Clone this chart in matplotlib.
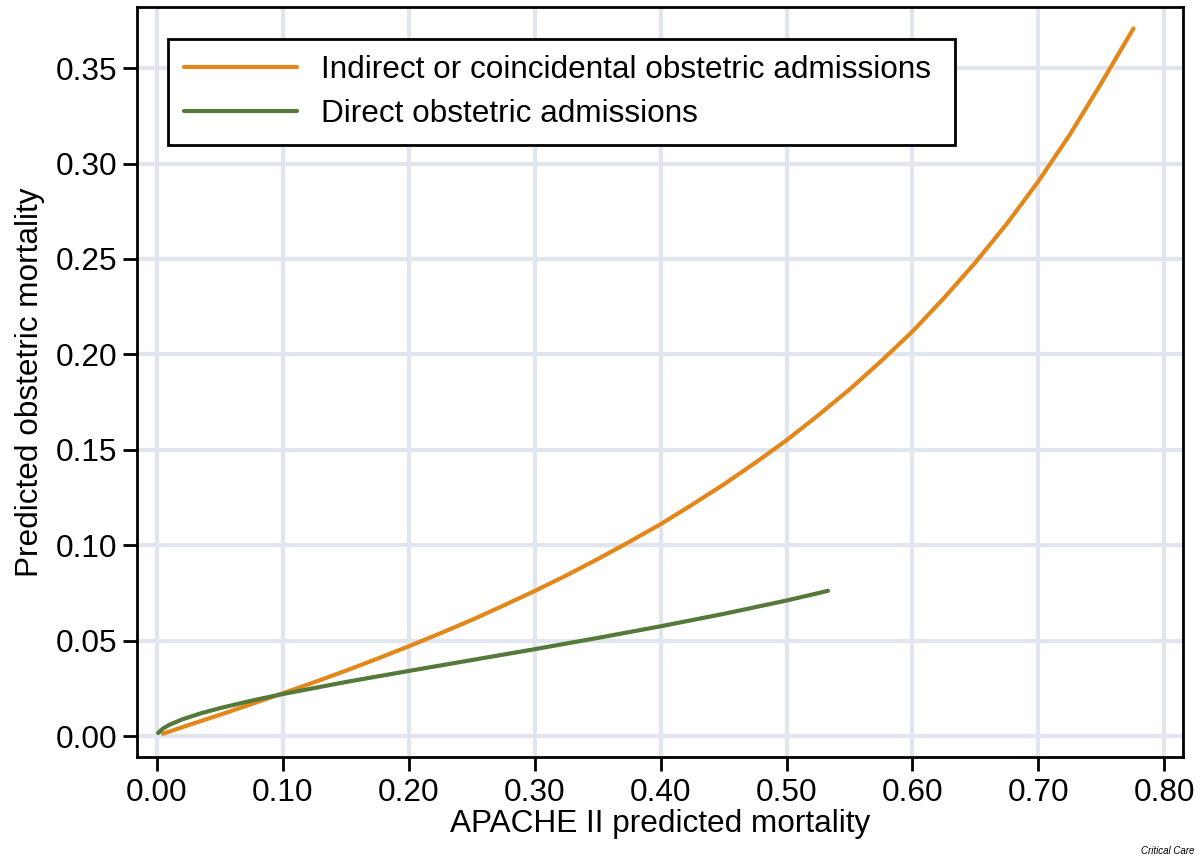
import matplotlib
matplotlib.use('Agg')
import matplotlib.pyplot as plt

# Values
indirect_x = [0.005, 0.025, 0.05, 0.075, 0.10, 0.125, 0.15, 0.175, 0.20, 0.225,
              0.25, 0.275, 0.30, 0.325, 0.35, 0.375, 0.40, 0.425, 0.45, 0.475,
              0.50, 0.525, 0.55, 0.575, 0.60, 0.625, 0.65, 0.675, 0.70, 0.725,
              0.75, 0.7755]
indirect_y = [0.0012, 0.0057, 0.0111, 0.0167, 0.0224, 0.0282, 0.0342, 0.0405,
              0.0470, 0.0538, 0.0608, 0.0683, 0.0760, 0.0841, 0.0927, 0.1017,
              0.1110, 0.1212, 0.1318, 0.1431, 0.1550, 0.1680, 0.1816, 0.1964,
              0.2120, 0.2295, 0.2482, 0.2685, 0.2907, 0.3152, 0.3422, 0.3708]

direct_x = [0.001, 0.005, 0.01, 0.02, 0.035, 0.05, 0.075, 0.10, 0.15, 0.20,
            0.25, 0.30, 0.35, 0.40, 0.45, 0.50, 0.533]
direct_y = [0.0016, 0.0040, 0.0059, 0.0087, 0.0119, 0.0146, 0.0185, 0.0220,
            0.0283, 0.0341, 0.0398, 0.0455, 0.0514, 0.0575, 0.0640, 0.0710, 0.0761]

x_ticks = [0.0, 0.1, 0.2, 0.3, 0.4, 0.5, 0.6, 0.7, 0.8]
y_ticks = [0.0, 0.05, 0.10, 0.15, 0.20, 0.25, 0.30, 0.35]

labels = ['Indirect or coincidental obstetric admissions', 'Direct obstetric admissions']
colors = ['#e3871b', '#54793a']

plt.rcParams['font.family'] = ['Liberation Sans', 'DejaVu Sans']
fs = 22.7

fig = plt.figure(figsize=(12, 8.58), dpi=100)
ax = fig.add_axes([0.114, 0.1177, 0.872, 0.874])

ax.plot(indirect_x, indirect_y, color=colors[0], lw=3, label=labels[0],
        solid_capstyle='round', zorder=3)
ax.plot(direct_x, direct_y, color=colors[1], lw=3, label=labels[1],
        solid_capstyle='round', zorder=3)

ax.set_xlim(-0.0159, 0.815)
ax.set_ylim(-0.011, 0.382)
ax.set_xticks(x_ticks)
ax.set_yticks(y_ticks)
ax.set_xticklabels([f'{v:.2f}' for v in x_ticks])
ax.set_yticklabels([f'{v:.2f}' for v in y_ticks])
ax.grid(True, color='#e1e5ee', lw=3, zorder=0)
ax.set_axisbelow(True)

for s in ax.spines.values():
    s.set_linewidth(2)
    s.set_color('black')
ax.tick_params(axis='both', length=10, width=2, labelsize=fs)
ax.tick_params(axis='x', pad=5)
ax.tick_params(axis='y', pad=4)

ax.set_xlabel('APACHE II predicted mortality', fontsize=fs, labelpad=1)
ax.set_ylabel('Predicted obstetric mortality', fontsize=fs, labelpad=8)

# legend box stretched to the reference's width
leg = ax.legend(loc='upper left', bbox_to_anchor=(0.0296, 0.957, 0.752, 0.0),
                mode='expand', fontsize=fs, frameon=True, fancybox=False,
                handlelength=3.6, handletextpad=0.75, labelspacing=0.45,
                borderpad=0.5, borderaxespad=0)
leg.get_frame().set_edgecolor('black')
leg.get_frame().set_linewidth(2)
leg.get_frame().set_alpha(1)

fig.text(0.995, 0.002, 'Critical Care', fontsize=7, style='italic', ha='right', va='bottom')

fig.savefig('out.png', dpi=100)
